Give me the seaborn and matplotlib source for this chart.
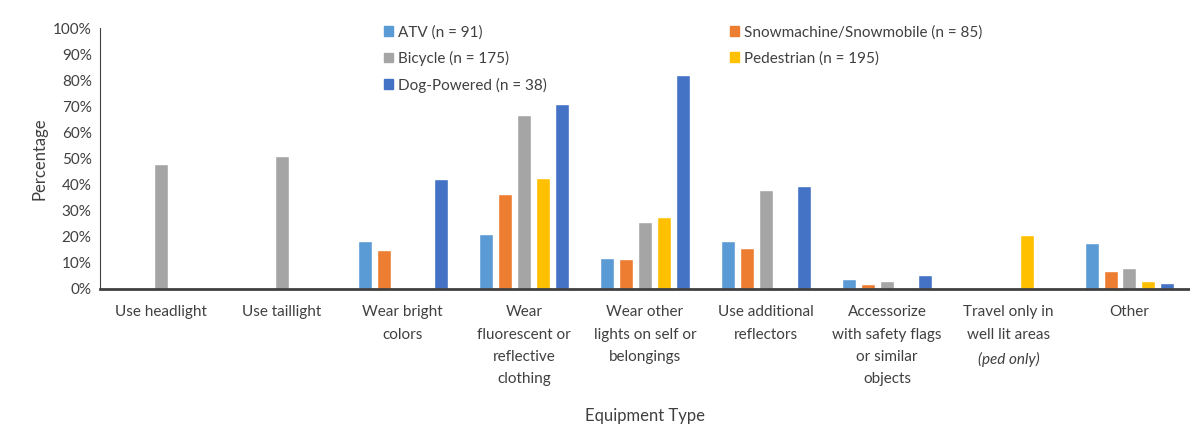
import pandas as pd
import matplotlib.pyplot as plt
import matplotlib.patches as mpatches
from matplotlib.ticker import PercentFormatter, MultipleLocator
import seaborn as sns

# equipment categories (x axis)
categories = [
    "Use headlight",
    "Use taillight",
    "Wear bright\ncolors",
    "Wear\nfluorescent or\nreflective\nclothing",
    "Wear other\nlights on self or\nbelongings",
    "Use additional\nreflectors",
    "Accessorize\nwith safety flags\nor similar\nobjects",
    "Travel only in\nwell lit areas",
    "Other",
]
italic_note = "(ped only)"

# percentages per mode
atv = [0, 0, 18.5, 21, 12, 18.5, 3.8, 0, 17.5]
snow = [0, 0, 15, 36.5, 11.5, 15.5, 2, 0, 7]
bicycle = [48, 51, 0, 66.5, 25.5, 38, 3, 0, 8]
pedestrian = [0, 0, 0, 42.5, 27.5, 0, 0, 20.5, 3]
dog = [0, 0, 42, 71, 82, 39.5, 5.3, 0, 2.4]

modes = ["ATV (n = 91)", "Snowmachine/Snowmobile (n = 85)", "Bicycle (n = 175)",
         "Pedestrian (n = 195)", "Dog-Powered (n = 38)"]
colors = ["#5B9BD5", "#ED7D31", "#A5A5A5", "#FFC000", "#4472C4"]

rows = []
for mode, vals in zip(modes, [atv, snow, bicycle, pedestrian, dog]):
    for cat, v in zip(categories, vals):
        rows.append({"Equipment Type": cat, "Mode": mode, "Percentage": v})
df = pd.DataFrame(rows)

sns.set_style("white")
plt.rcParams["font.family"] = ["Lato", "DejaVu Sans"]

fig, ax = plt.subplots(figsize=(11.9, 4.33), dpi=100)
fig.subplots_adjust(left=0.084, right=1.0, top=0.935, bottom=0.333)

sns.barplot(data=df, x="Equipment Type", y="Percentage", hue="Mode",
            hue_order=modes, palette=colors, width=0.78, gap=0.26,
            saturation=1, legend=False, ax=ax)

ax.set_ylim(0, 100)
ax.set_xlim(-0.5, len(categories) - 0.5)
ax.yaxis.set_major_locator(MultipleLocator(10))
ax.yaxis.set_major_formatter(PercentFormatter(decimals=0))
ax.tick_params(axis="y", labelsize=11, colors="#404040", direction="in", length=3, pad=6)
ax.tick_params(axis="x", labelsize=11, colors="#404040", length=0, pad=12)
lsp = 1.75
for lab in ax.get_xticklabels():
    lab.set_verticalalignment("top")
    lab.set_linespacing(lsp)
ax.set_ylabel("Percentage", fontsize=12, color="#404040")
ax.set_xlabel("Equipment Type", fontsize=12, color="#404040", labelpad=16)

# italic third line under "Travel only in well lit areas"
ax.annotate(italic_note, xy=(7, 0), xycoords=("data", "axes fraction"),
            xytext=(0, -12 - 2 * lsp * 11 * 0.86), textcoords="offset points",
            ha="center", va="top", fontsize=11, style="italic", color="#404040")

sns.despine(ax=ax, top=True, right=True)
ax.spines["left"].set_color("#404040")
ax.spines["left"].set_linewidth(0.8)
ax.spines["bottom"].set_color("#404040")
ax.spines["bottom"].set_linewidth(2)

# legend order as in the original
order = [0, 2, 4, 1, 3]
handles = [mpatches.Patch(color=colors[i], label=modes[i]) for i in order]
ax.legend(handles=handles, ncol=2, loc="upper left", bbox_to_anchor=(0.255, 1.035),
          frameon=False, fontsize=11, handlelength=0.6, handleheight=0.6,
          handletextpad=0.3, columnspacing=12.0, labelspacing=0.75,
          borderaxespad=0, labelcolor="#404040")

plt.savefig("out.png", dpi=100)
